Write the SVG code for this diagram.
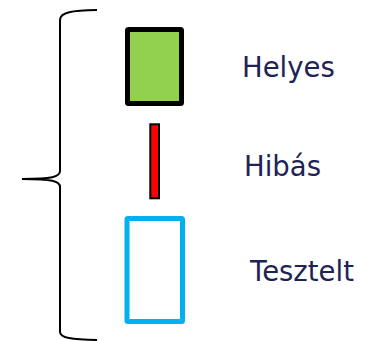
<svg xmlns="http://www.w3.org/2000/svg" width="365" height="341" viewBox="0 0 365 341">
<style>
.lbl{font-family:"DejaVu Sans",Verdana,sans-serif;font-size:27.5px;fill:#1E2356}
.brace{fill:none;stroke:#000;stroke-width:2}
</style>
<rect width="365" height="341" fill="#fff"/>
<g id="connectors">
<path class="brace" d="M97,10 C72,10.5 60,12 60,20 L60,171 C60,177 52,179 22,179 C52,179 60,181 60,187 L60,332 C60,338 72,339.5 97,340"/>
</g>
<g id="helyes">
<rect x="127.5" y="29.5" width="54" height="74" fill="#92D050" stroke="#000" stroke-width="5" rx="1"/>
<text class="lbl" x="242" y="77">Helyes</text>
</g>
<g id="hibas">
<rect x="150.3" y="124.3" width="8.7" height="74" fill="#FF0000" stroke="#000" stroke-width="2"/>
<text class="lbl" x="244" y="176">Hibás</text>
</g>
<g id="tesztelt">
<rect x="127" y="218.5" width="55.5" height="103" fill="none" stroke="#00B0F0" stroke-width="5" rx="1"/>
<text class="lbl" x="250" y="281">Tesztelt</text>
</g>
</svg>
